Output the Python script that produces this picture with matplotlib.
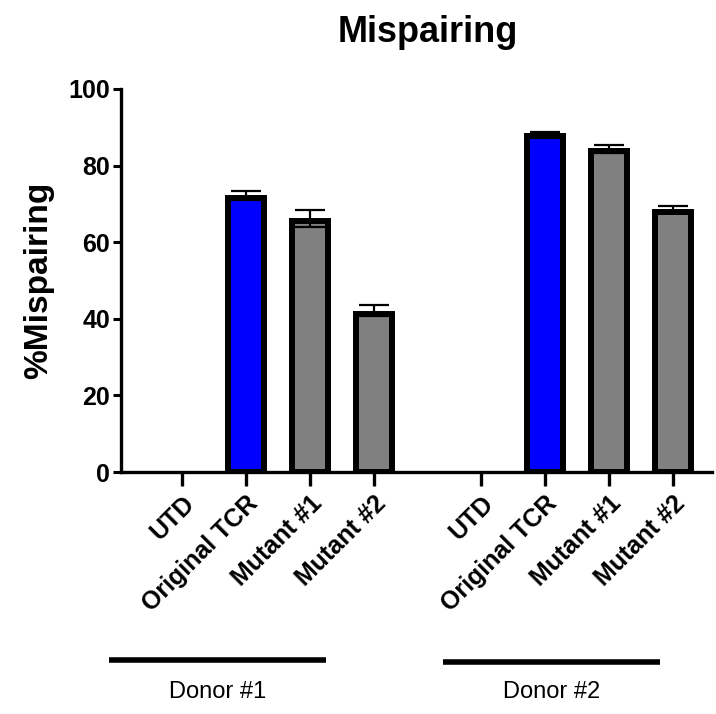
import matplotlib
matplotlib.use("Agg")
import matplotlib.pyplot as plt
import numpy as np

plt.rcParams['font.family'] = ['Liberation Sans', 'DejaVu Sans']

categories = ["UTD", "Original TCR", "Mutant #1", "Mutant #2",
              "UTD", "Original TCR", "Mutant #1", "Mutant #2"]
donors = ["Donor #1", "Donor #2"]
values = [0, 71.5, 65.5, 41.2, 0, 87.6, 83.8, 68.0]
err_up = [0, 1.8, 3.0, 2.4, 0, 1.2, 1.5, 1.5]
err_down = [0, 0.5, 1.6, 0.5, 0, 0.5, 0.5, 0.5]
colors = ["#808080", "#0000FF", "#808080", "#808080",
          "#808080", "#0000FF", "#808080", "#808080"]

group_gap = 1.67
x = np.array([0, 1, 2, 3, 3 + group_gap, 4 + group_gap, 5 + group_gap, 6 + group_gap])
vals = np.array(values)
has = vals > 0

fig = plt.figure(figsize=(7.16, 7.14), dpi=100)
ax = fig.add_axes([121/716, 1 - 472/714, (712 - 121)/716, (472 - 89)/714])

edges = ["black" if v > 0 else "none" for v in values]
ax.bar(x, values, width=0.57, color=colors, edgecolor=edges, linewidth=4.3, zorder=2)
ax.errorbar(x[has], vals[has],
            yerr=[np.array(err_down)[has], np.array(err_up)[has]],
            fmt="none", ecolor="black", elinewidth=1.6, capsize=10.5, capthick=1.6, zorder=3)

ax.set_xlim(-0.95, 8.28)
ax.set_ylim(0, 100)
ax.set_yticks([0, 20, 40, 60, 80, 100])
ax.set_xticks(x)
ax.set_xticklabels(categories, rotation=45, ha="right", rotation_mode="anchor",
                   fontsize=18, fontweight="bold")
for lab in ax.get_yticklabels():
    lab.set_fontweight("bold")
ax.tick_params(axis="y", labelsize=18, length=6, width=2.2, pad=2)
ax.tick_params(axis="x", length=10, width=2.4, pad=4)
for s in ["top", "right"]:
    ax.spines[s].set_visible(False)
for s in ["left", "bottom"]:
    ax.spines[s].set_linewidth(2.4)

ax.set_ylabel("%Mispairing", fontsize=24, fontweight="bold", labelpad=10)
ax.set_title("Mispairing", fontsize=26, fontweight="bold", pad=34, x=0.519)

# donor group annotations
line_specs = [(109, 326, 660), (443, 660, 662)]
for (x0, x1, yy), name in zip(line_specs, donors):
    fig.add_artist(plt.Line2D([x0/716, x1/716], [1 - yy/714, 1 - yy/714],
                              color="black", linewidth=4, solid_capstyle="butt"))
    fig.text((x0 + x1) / 2 / 716, 1 - 692/714, name, ha="center", va="center", fontsize=17)

fig.savefig("out.png", dpi=100)
